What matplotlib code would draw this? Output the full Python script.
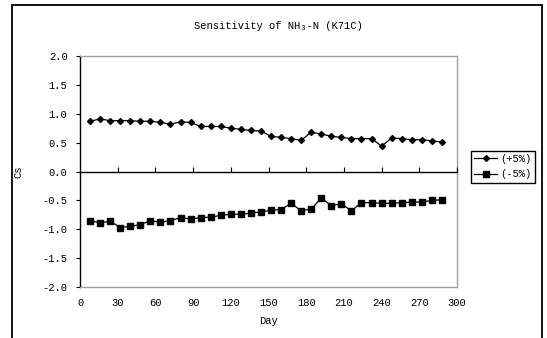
import matplotlib
matplotlib.use("Agg")
import matplotlib.pyplot as plt
from matplotlib.patches import Rectangle

days = list(range(8, 289, 8))
plus5 = [0.87, 0.91, 0.88, 0.88, 0.88, 0.87, 0.87, 0.85, 0.82, 0.86, 0.85, 0.78,
         0.78, 0.78, 0.75, 0.73, 0.71, 0.70, 0.61, 0.59, 0.57, 0.54, 0.68, 0.65,
         0.61, 0.59, 0.57, 0.57, 0.57, 0.44, 0.58, 0.57, 0.55, 0.55, 0.53, 0.51]
minus5 = [-0.85, -0.89, -0.86, -0.97, -0.95, -0.92, -0.85, -0.88, -0.85, -0.80, -0.82, -0.80,
          -0.79, -0.76, -0.74, -0.74, -0.72, -0.70, -0.67, -0.66, -0.55, -0.68, -0.65, -0.46,
          -0.59, -0.56, -0.68, -0.54, -0.54, -0.55, -0.55, -0.54, -0.53, -0.53, -0.50, -0.49]
xticks = list(range(0, 301, 30))
yticks = [-2.0, -1.5, -1.0, -0.5, 0.0, 0.5, 1.0, 1.5, 2.0]

plt.rcParams['font.family'] = ['Liberation Mono', 'DejaVu Sans Mono']
plt.rcParams['font.size'] = 7.6

fig = plt.figure(figsize=(5.47, 3.38), dpi=100)
L, B, W, H = 80/547, 51/338, 377/547, 231/338
ax = fig.add_axes([L, B, W, H])

# outer frame of the chart area
fig.patches.append(Rectangle((12/547, -0.05), 530/547, 1.05 - 5/338, transform=fig.transFigure,
                             fill=False, edgecolor='black', linewidth=1.3))

l1, = ax.plot(days, plus5, '-D', color='black', lw=0.9, ms=3.0, label='(+5%)')
l2, = ax.plot(days, minus5, '-s', color='black', lw=0.9, ms=4.2, label='(-5%)')

ax.set_xlim(0, 300)
ax.set_ylim(-2, 2)
ax.set_yticks(yticks)
ax.set_yticklabels([f"{v:.1f}" for v in yticks])
ax.set_xticks(xticks)
ax.tick_params(axis='x', length=0, pad=8)
ax.tick_params(axis='y', direction='out', length=3, width=0.8, pad=6)

for s in ['top', 'right', 'bottom']:
    ax.spines[s].set_color('#a0a0a0')
    ax.spines[s].set_linewidth(1.0)
ax.spines['left'].set_color('black')
ax.spines['left'].set_linewidth(1.0)

# zero line with upward ticks: an overlay axes over the upper half
ax0 = fig.add_axes([L, B + H / 2, W, H / 2])
ax0.patch.set_visible(False)
for s in ['top', 'right', 'left']:
    ax0.spines[s].set_visible(False)
ax0.spines['bottom'].set_color('black')
ax0.spines['bottom'].set_linewidth(1.0)
ax0.set_xlim(0, 300)
ax0.set_xticks(xticks[1:])
ax0.set_xticklabels([])
ax0.set_yticks([])
ax0.tick_params(axis='x', direction='in', length=3.5, width=0.8)

ax.set_xlabel('Day', labelpad=6)
ax.set_ylabel('Cs', labelpad=14)
fig.text(278/547, 1 - 26/338, 'Sensitivity of NH\u2083-N (K71C)', ha='center', va='center')

fig.legend(handles=[l1, l2], loc='upper left', bbox_to_anchor=(471/547, 1 - 151/338),
           frameon=True, fancybox=False, edgecolor='black', framealpha=1,
           handlelength=2.2, handletextpad=0.3, borderpad=0.3, labelspacing=0.5,
           borderaxespad=0)

fig.savefig('out.png', dpi=100)
